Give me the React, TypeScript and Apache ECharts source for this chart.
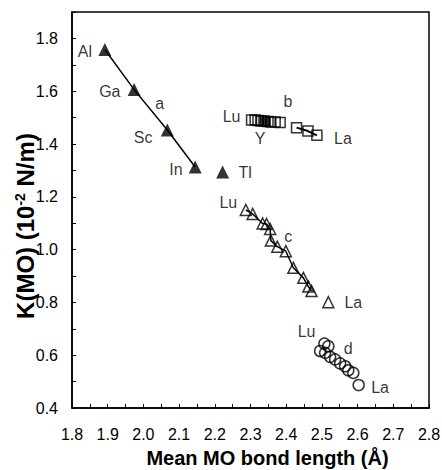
import React, { useEffect, useRef } from "react";
import * as echarts from "echarts";

// Series a: group 13 / Sc, filled triangles with fitted line
const aPoints: number[][] = [
  [1.892, 1.758],
  [1.974, 1.606],
  [2.067, 1.453],
  [2.145, 1.313],
];
const tlPoint: number[][] = [[2.222, 1.294]];

// Series b: open squares (Lu ... La), Y filled
const bPoints: number[][] = [
  [2.303, 1.491],
  [2.313, 1.491],
  [2.321, 1.489],
  [2.329, 1.487],
  [2.338, 1.487],
  [2.349, 1.485],
  [2.357, 1.483],
  [2.369, 1.483],
  [2.383, 1.481],
  [2.429, 1.462],
  [2.461, 1.449],
  [2.486, 1.433],
];
const bYPoint: number[][] = [[2.341, 1.485]];
const bLinePoints: number[][] = [
  [2.429, 1.462],
  [2.461, 1.449],
  [2.486, 1.433],
];

// Series c: open triangles
const cPoints: number[][] = [
  [2.287, 1.15],
  [2.306, 1.135],
  [2.334, 1.099],
  [2.345, 1.097],
  [2.355, 1.078],
  [2.357, 1.034],
  [2.375, 1.011],
  [2.399, 0.994],
  [2.42, 0.931],
  [2.448, 0.893],
  [2.462, 0.86],
  [2.471, 0.843],
];
const cLaPoint: number[][] = [[2.518, 0.801]];

// Series d: open circles
const dPoints: number[][] = [
  [2.507, 0.644],
  [2.518, 0.634],
  [2.495, 0.616],
  [2.509, 0.609],
  [2.523, 0.594],
  [2.537, 0.584],
  [2.551, 0.569],
  [2.565, 0.558],
  [2.574, 0.543],
  [2.588, 0.533],
  [2.603, 0.487],
];

// Text annotations placed in data coordinates
const annTexts = ["Al", "Ga", "Sc", "In", "Tl", "a", "Lu", "Y", "b", "La", "Lu", "c", "La", "Lu", "d", "La"];
const annCoords: number[][] = [
  [1.836, 1.751],
  [1.906, 1.597],
  [1.999, 1.423],
  [2.091, 1.302],
  [2.285, 1.291],
  [2.046, 1.555],
  [2.247, 1.506],
  [2.327, 1.419],
  [2.405, 1.56],
  [2.559, 1.419],
  [2.238, 1.178],
  [2.406, 1.049],
  [2.588, 0.801],
  [2.457, 0.688],
  [2.574, 0.625],
  [2.663, 0.478],
];

const FONT = "'Liberation Sans', Arial, sans-serif";

export default function App() {
  const ref = useRef<HTMLDivElement>(null);
  useEffect(() => {
    if (!ref.current) return;
    const chart = echarts.init(ref.current, undefined, { renderer: "svg" });
    const openStyle = { color: "rgba(0,0,0,0)", borderColor: "#000", borderWidth: 1.5 };
    chart.setOption({
      animation: false,
      color: ["#000"],
      grid: {
        left: 72,
        right: 13,
        top: 12,
        bottom: 62,
        containLabel: false,
        outerBoundsMode: "none",
        show: true,
        borderColor: "#000",
        borderWidth: 1.5,
        backgroundColor: "transparent",
      },
      graphic: [
        {
          type: "text",
          x: 25,
          y: 226,
          rotation: Math.PI / 2,
          silent: true,
          style: {
            text: "{t|K(MO) (10}{s|-2}{t| N/m)}",
            align: "center",
            verticalAlign: "middle",
            rich: {
              t: { fill: "#000", fontSize: 24, fontWeight: "bold", fontFamily: FONT },
              s: { fill: "#000", fontSize: 14, fontWeight: "bold", fontFamily: FONT, verticalAlign: "top", padding: [0, 0, 10, 0] },
            },
          },
        },
      ],
      xAxis: {
        type: "value",
        min: 1.8,
        max: 2.8,
        interval: 0.05,
        splitLine: { show: false },
        axisLine: { show: true, lineStyle: { color: "#000", width: 1.5 } },
        axisTick: { show: true, inside: true, length: 4, lineStyle: { color: "#000", width: 1 } },
        axisLabel: {
          color: "#000",
          fontSize: 16,
          fontFamily: FONT,
          margin: 18,
          formatter: (v: number) => {
            const k = Math.round(v * 100);
            return k % 10 === 0 ? (k / 100).toFixed(1) : "";
          },
        },
        name: "Mean MO bond length (Å)",
        nameLocation: "middle",
        nameGap: 40,
        nameTextStyle: {
          color: "#000",
          fontSize: 20,
          fontWeight: "bold",
          fontFamily: FONT,
          padding: [0, 0, 0, 34],
        },
      },
      yAxis: {
        type: "value",
        min: 0.4,
        max: 1.9,
        interval: 0.1,
        splitLine: { show: false },
        axisLine: { show: true, lineStyle: { color: "#000", width: 1.5 } },
        axisTick: { show: true, inside: true, length: 4, lineStyle: { color: "#000", width: 1 } },
        axisLabel: {
          color: "#000",
          fontSize: 16,
          fontFamily: FONT,
          margin: 14,
          formatter: (v: number) => {
            const k = Math.round(v * 10);
            return k % 2 === 0 && k <= 18 ? (k / 10).toFixed(1) : "";
          },
        },
      },
      series: [
        {
          type: "line",
          data: aPoints,
          symbol: "none",
          lineStyle: { color: "#000", width: 1.5 },
          z: 1,
        },
        {
          type: "scatter",
          data: aPoints.concat(tlPoint),
          symbol: "triangle",
          symbolSize: 13,
          itemStyle: { color: "#000" },
          z: 3,
        },
        {
          type: "line",
          data: bLinePoints,
          symbol: "none",
          lineStyle: { color: "#000", width: 2 },
          z: 1,
        },
        {
          type: "scatter",
          data: bPoints,
          symbol: "rect",
          symbolSize: 10,
          itemStyle: openStyle,
          z: 3,
        },
        {
          type: "scatter",
          data: bYPoint,
          symbol: "rect",
          symbolSize: 10,
          itemStyle: { color: "#000" },
          z: 4,
        },
        {
          type: "line",
          data: cPoints,
          symbol: "none",
          lineStyle: { color: "#000", width: 1.5 },
          z: 1,
        },
        {
          type: "scatter",
          data: cPoints.concat(cLaPoint),
          symbol: "triangle",
          symbolSize: 11,
          itemStyle: openStyle,
          z: 3,
        },
        {
          type: "scatter",
          data: dPoints,
          symbol: "circle",
          symbolSize: 11,
          itemStyle: openStyle,
          z: 3,
        },
        {
          type: "scatter",
          data: annTexts.map((t, i) => ({ name: t, value: annCoords[i] })),
          symbolSize: 0,
          silent: true,
          itemStyle: { color: "#000" },
          label: {
            show: true,
            position: "inside",
            formatter: "{b}",
            color: "#000",
            fontSize: 16,
            fontFamily: FONT,
            textBorderWidth: 0,
            textBorderColor: "transparent",
          },
          z: 5,
        },
      ],
    });
    return () => chart.dispose();
  }, []);
  return (
    <div
      ref={ref}
      style={{ position: "fixed", left: 0, top: 0, width: 442, height: 470, background: "#fff" }}
    />
  );
}
